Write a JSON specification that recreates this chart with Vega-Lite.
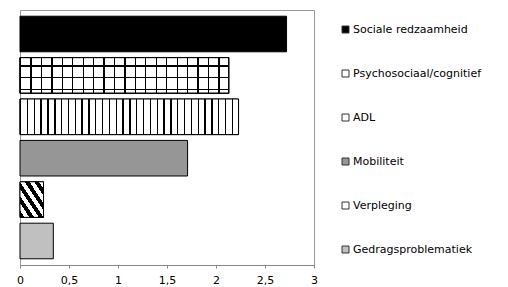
{
  "$schema": "https://vega.github.io/schema/vega-lite/v6.json",
  "width": 294,
  "height": 255,
  "autosize": {"type": "none"},
  "padding": {"left": 20, "top": 10, "right": 194, "bottom": 22},
  "background": "white",
  "config": {
    "view": {"stroke": "#999999", "strokeWidth": 1},
    "font": "DejaVu Sans"
  },
  "data": {
    "values": [
      {"cat": "Sociale redzaamheid", "v": 2.72},
      {"cat": "Psychosociaal/cognitief", "v": 2.13},
      {"cat": "ADL", "v": 2.23},
      {"cat": "Mobiliteit", "v": 1.71},
      {"cat": "Verpleging", "v": 0.24},
      {"cat": "Gedragsproblematiek", "v": 0.34}
    ]
  },
  "encoding": {
    "y": {
      "field": "cat",
      "type": "nominal",
      "sort": ["Sociale redzaamheid", "Psychosociaal/cognitief", "ADL", "Mobiliteit", "Verpleging", "Gedragsproblematiek"],
      "axis": null,
      "scale": {"paddingInner": 0.14, "paddingOuter": 0.15}
    },
    "x": {
      "field": "v",
      "type": "quantitative",
      "scale": {"domain": [0, 3], "nice": false},
      "axis": {
        "values": [0, 0.5, 1, 1.5, 2, 2.5, 3],
        "format": "~g",
        "labelExpr": "replace(datum.label, '.', ',')",
        "title": null,
        "grid": false,
        "domainColor": "#888888",
        "tickColor": "#888888",
        "tickSize": 3,
        "labelPadding": 6,
        "labelFont": "DejaVu Sans",
        "labelFontSize": 11,
        "labelColor": "#000000",
        "labelFlush": false
      }
    }
  },
  "layer": [
    {
      "mark": {"type": "bar", "stroke": "#000000", "strokeWidth": 1},
      "encoding": {
        "color": {
          "field": "cat",
          "type": "nominal",
          "scale": {
            "domain": ["Sociale redzaamheid", "Psychosociaal/cognitief", "ADL", "Mobiliteit", "Verpleging", "Gedragsproblematiek"],
            "range": ["#000000", "#ffffff", "#ffffff", "#969696", "#ffffff", "#c0c0c0"]
          },
          "legend": {
            "orient": "none",
            "legendX": 320,
            "legendY": 14,
            "title": null,
            "symbolType": "square",
            "symbolSize": 49,
            "symbolStrokeColor": "#333333",
            "symbolStrokeWidth": 1,
            "symbolOpacity": 1,
            "labelFont": "DejaVu Sans",
            "labelFontSize": 11,
            "labelColor": "#000000",
            "labelOffset": 2,
            "rowPadding": 32,
            "labelLimit": 200
          }
        }
      }
    },
    {
      "transform": [{"filter": "datum.cat === 'ADL'"}],
      "mark": {
        "type": "bar",
        "stroke": "#000000",
        "strokeWidth": 1,
        "fill": {
          "gradient": "linear", "x1": 0, "y1": 0, "x2": 1, "y2": 0,
          "stops": [
            {"offset": 0, "color": "#000"}, {"offset": 0.00625, "color": "#000"}, {"offset": 0.00625, "color": "#fff"}, {"offset": 0.03125, "color": "#fff"},
            {"offset": 0.03125, "color": "#000"}, {"offset": 0.0375, "color": "#000"}, {"offset": 0.0375, "color": "#fff"}, {"offset": 0.0625, "color": "#fff"},
            {"offset": 0.0625, "color": "#000"}, {"offset": 0.06875, "color": "#000"}, {"offset": 0.06875, "color": "#fff"}, {"offset": 0.09375, "color": "#fff"},
            {"offset": 0.09375, "color": "#000"}, {"offset": 0.1, "color": "#000"}, {"offset": 0.1, "color": "#fff"}, {"offset": 0.125, "color": "#fff"},
            {"offset": 0.125, "color": "#000"}, {"offset": 0.13125, "color": "#000"}, {"offset": 0.13125, "color": "#fff"}, {"offset": 0.15625, "color": "#fff"},
            {"offset": 0.15625, "color": "#000"}, {"offset": 0.1625, "color": "#000"}, {"offset": 0.1625, "color": "#fff"}, {"offset": 0.1875, "color": "#fff"},
            {"offset": 0.1875, "color": "#000"}, {"offset": 0.19375, "color": "#000"}, {"offset": 0.19375, "color": "#fff"}, {"offset": 0.21875, "color": "#fff"},
            {"offset": 0.21875, "color": "#000"}, {"offset": 0.225, "color": "#000"}, {"offset": 0.225, "color": "#fff"}, {"offset": 0.25, "color": "#fff"},
            {"offset": 0.25, "color": "#000"}, {"offset": 0.25625, "color": "#000"}, {"offset": 0.25625, "color": "#fff"}, {"offset": 0.28125, "color": "#fff"},
            {"offset": 0.28125, "color": "#000"}, {"offset": 0.2875, "color": "#000"}, {"offset": 0.2875, "color": "#fff"}, {"offset": 0.3125, "color": "#fff"},
            {"offset": 0.3125, "color": "#000"}, {"offset": 0.31875, "color": "#000"}, {"offset": 0.31875, "color": "#fff"}, {"offset": 0.34375, "color": "#fff"},
            {"offset": 0.34375, "color": "#000"}, {"offset": 0.35, "color": "#000"}, {"offset": 0.35, "color": "#fff"}, {"offset": 0.375, "color": "#fff"},
            {"offset": 0.375, "color": "#000"}, {"offset": 0.38125, "color": "#000"}, {"offset": 0.38125, "color": "#fff"}, {"offset": 0.40625, "color": "#fff"},
            {"offset": 0.40625, "color": "#000"}, {"offset": 0.4125, "color": "#000"}, {"offset": 0.4125, "color": "#fff"}, {"offset": 0.4375, "color": "#fff"},
            {"offset": 0.4375, "color": "#000"}, {"offset": 0.44375, "color": "#000"}, {"offset": 0.44375, "color": "#fff"}, {"offset": 0.46875, "color": "#fff"},
            {"offset": 0.46875, "color": "#000"}, {"offset": 0.475, "color": "#000"}, {"offset": 0.475, "color": "#fff"}, {"offset": 0.5, "color": "#fff"},
            {"offset": 0.5, "color": "#000"}, {"offset": 0.50625, "color": "#000"}, {"offset": 0.50625, "color": "#fff"}, {"offset": 0.53125, "color": "#fff"},
            {"offset": 0.53125, "color": "#000"}, {"offset": 0.5375, "color": "#000"}, {"offset": 0.5375, "color": "#fff"}, {"offset": 0.5625, "color": "#fff"},
            {"offset": 0.5625, "color": "#000"}, {"offset": 0.56875, "color": "#000"}, {"offset": 0.56875, "color": "#fff"}, {"offset": 0.59375, "color": "#fff"},
            {"offset": 0.59375, "color": "#000"}, {"offset": 0.6, "color": "#000"}, {"offset": 0.6, "color": "#fff"}, {"offset": 0.625, "color": "#fff"},
            {"offset": 0.625, "color": "#000"}, {"offset": 0.63125, "color": "#000"}, {"offset": 0.63125, "color": "#fff"}, {"offset": 0.65625, "color": "#fff"},
            {"offset": 0.65625, "color": "#000"}, {"offset": 0.6625, "color": "#000"}, {"offset": 0.6625, "color": "#fff"}, {"offset": 0.6875, "color": "#fff"},
            {"offset": 0.6875, "color": "#000"}, {"offset": 0.69375, "color": "#000"}, {"offset": 0.69375, "color": "#fff"}, {"offset": 0.71875, "color": "#fff"},
            {"offset": 0.71875, "color": "#000"}, {"offset": 0.725, "color": "#000"}, {"offset": 0.725, "color": "#fff"}, {"offset": 0.75, "color": "#fff"},
            {"offset": 0.75, "color": "#000"}, {"offset": 0.75625, "color": "#000"}, {"offset": 0.75625, "color": "#fff"}, {"offset": 0.78125, "color": "#fff"},
            {"offset": 0.78125, "color": "#000"}, {"offset": 0.7875, "color": "#000"}, {"offset": 0.7875, "color": "#fff"}, {"offset": 0.8125, "color": "#fff"},
            {"offset": 0.8125, "color": "#000"}, {"offset": 0.81875, "color": "#000"}, {"offset": 0.81875, "color": "#fff"}, {"offset": 0.84375, "color": "#fff"},
            {"offset": 0.84375, "color": "#000"}, {"offset": 0.85, "color": "#000"}, {"offset": 0.85, "color": "#fff"}, {"offset": 0.875, "color": "#fff"},
            {"offset": 0.875, "color": "#000"}, {"offset": 0.88125, "color": "#000"}, {"offset": 0.88125, "color": "#fff"}, {"offset": 0.90625, "color": "#fff"},
            {"offset": 0.90625, "color": "#000"}, {"offset": 0.9125, "color": "#000"}, {"offset": 0.9125, "color": "#fff"}, {"offset": 0.9375, "color": "#fff"},
            {"offset": 0.9375, "color": "#000"}, {"offset": 0.94375, "color": "#000"}, {"offset": 0.94375, "color": "#fff"}, {"offset": 0.96875, "color": "#fff"},
            {"offset": 0.96875, "color": "#000"}, {"offset": 0.975, "color": "#000"}, {"offset": 0.975, "color": "#fff"}, {"offset": 1, "color": "#fff"}
          ]
        }
      }
    },
    {
      "transform": [{"filter": "datum.cat === 'Psychosociaal/cognitief'"}],
      "mark": {
        "type": "bar",
        "stroke": "#000000",
        "strokeWidth": 1,
        "fill": {
          "gradient": "linear", "x1": 0, "y1": 0, "x2": 1, "y2": 0,
          "stops": [
            {"offset": 0, "color": "#000"}, {"offset": 0.006, "color": "#000"}, {"offset": 0.006, "color": "#fff"}, {"offset": 0.05, "color": "#fff"},
            {"offset": 0.05, "color": "#000"}, {"offset": 0.056, "color": "#000"}, {"offset": 0.056, "color": "#fff"}, {"offset": 0.1, "color": "#fff"},
            {"offset": 0.1, "color": "#000"}, {"offset": 0.106, "color": "#000"}, {"offset": 0.106, "color": "#fff"}, {"offset": 0.15, "color": "#fff"},
            {"offset": 0.15, "color": "#000"}, {"offset": 0.156, "color": "#000"}, {"offset": 0.156, "color": "#fff"}, {"offset": 0.2, "color": "#fff"},
            {"offset": 0.2, "color": "#000"}, {"offset": 0.206, "color": "#000"}, {"offset": 0.206, "color": "#fff"}, {"offset": 0.25, "color": "#fff"},
            {"offset": 0.25, "color": "#000"}, {"offset": 0.256, "color": "#000"}, {"offset": 0.256, "color": "#fff"}, {"offset": 0.3, "color": "#fff"},
            {"offset": 0.3, "color": "#000"}, {"offset": 0.306, "color": "#000"}, {"offset": 0.306, "color": "#fff"}, {"offset": 0.35, "color": "#fff"},
            {"offset": 0.35, "color": "#000"}, {"offset": 0.356, "color": "#000"}, {"offset": 0.356, "color": "#fff"}, {"offset": 0.4, "color": "#fff"},
            {"offset": 0.4, "color": "#000"}, {"offset": 0.406, "color": "#000"}, {"offset": 0.406, "color": "#fff"}, {"offset": 0.45, "color": "#fff"},
            {"offset": 0.45, "color": "#000"}, {"offset": 0.456, "color": "#000"}, {"offset": 0.456, "color": "#fff"}, {"offset": 0.5, "color": "#fff"},
            {"offset": 0.5, "color": "#000"}, {"offset": 0.506, "color": "#000"}, {"offset": 0.506, "color": "#fff"}, {"offset": 0.55, "color": "#fff"},
            {"offset": 0.55, "color": "#000"}, {"offset": 0.556, "color": "#000"}, {"offset": 0.556, "color": "#fff"}, {"offset": 0.6, "color": "#fff"},
            {"offset": 0.6, "color": "#000"}, {"offset": 0.606, "color": "#000"}, {"offset": 0.606, "color": "#fff"}, {"offset": 0.65, "color": "#fff"},
            {"offset": 0.65, "color": "#000"}, {"offset": 0.656, "color": "#000"}, {"offset": 0.656, "color": "#fff"}, {"offset": 0.7, "color": "#fff"},
            {"offset": 0.7, "color": "#000"}, {"offset": 0.706, "color": "#000"}, {"offset": 0.706, "color": "#fff"}, {"offset": 0.75, "color": "#fff"},
            {"offset": 0.75, "color": "#000"}, {"offset": 0.756, "color": "#000"}, {"offset": 0.756, "color": "#fff"}, {"offset": 0.8, "color": "#fff"},
            {"offset": 0.8, "color": "#000"}, {"offset": 0.806, "color": "#000"}, {"offset": 0.806, "color": "#fff"}, {"offset": 0.85, "color": "#fff"},
            {"offset": 0.85, "color": "#000"}, {"offset": 0.856, "color": "#000"}, {"offset": 0.856, "color": "#fff"}, {"offset": 0.9, "color": "#fff"},
            {"offset": 0.9, "color": "#000"}, {"offset": 0.906, "color": "#000"}, {"offset": 0.906, "color": "#fff"}, {"offset": 0.95, "color": "#fff"},
            {"offset": 0.95, "color": "#000"}, {"offset": 0.956, "color": "#000"}, {"offset": 0.956, "color": "#fff"}, {"offset": 1, "color": "#fff"}
          ]
        }
      }
    },
    {
      "transform": [{"filter": "datum.cat === 'Psychosociaal/cognitief'"}],
      "mark": {
        "type": "bar",
        "stroke": "#000000",
        "strokeWidth": 1,
        "fill": {
          "gradient": "linear", "x1": 0, "y1": 0, "x2": 0, "y2": 1,
          "stops": [
            {"offset": 0, "color": "rgba(0,0,0,0)"}, {"offset": 0.22, "color": "rgba(0,0,0,0)"},
            {"offset": 0.22, "color": "#000"}, {"offset": 0.25, "color": "#000"},
            {"offset": 0.25, "color": "rgba(0,0,0,0)"}, {"offset": 0.55, "color": "rgba(0,0,0,0)"},
            {"offset": 0.55, "color": "#000"}, {"offset": 0.58, "color": "#000"},
            {"offset": 0.58, "color": "rgba(0,0,0,0)"}, {"offset": 0.88, "color": "rgba(0,0,0,0)"},
            {"offset": 0.88, "color": "#000"}, {"offset": 0.91, "color": "#000"},
            {"offset": 0.91, "color": "rgba(0,0,0,0)"}, {"offset": 1, "color": "rgba(0,0,0,0)"}
          ]
        }
      }
    },
    {
      "transform": [{"filter": "datum.cat === 'Verpleging'"}],
      "mark": {
        "type": "bar",
        "stroke": "#000000",
        "strokeWidth": 1,
        "fill": {
          "gradient": "linear", "x1": 0, "y1": 1, "x2": 1, "y2": 0,
          "stops": [
            {"offset": 0, "color": "#000"}, {"offset": 0.1, "color": "#000"}, {"offset": 0.1, "color": "#fff"}, {"offset": 0.2, "color": "#fff"},
            {"offset": 0.2, "color": "#000"}, {"offset": 0.3, "color": "#000"}, {"offset": 0.3, "color": "#fff"}, {"offset": 0.4, "color": "#fff"},
            {"offset": 0.4, "color": "#000"}, {"offset": 0.5, "color": "#000"}, {"offset": 0.5, "color": "#fff"}, {"offset": 0.6, "color": "#fff"},
            {"offset": 0.6, "color": "#000"}, {"offset": 0.7, "color": "#000"}, {"offset": 0.7, "color": "#fff"}, {"offset": 0.8, "color": "#fff"},
            {"offset": 0.8, "color": "#000"}, {"offset": 0.9, "color": "#000"}, {"offset": 0.9, "color": "#fff"}, {"offset": 1, "color": "#fff"}
          ]
        }
      }
    }
  ]
}
